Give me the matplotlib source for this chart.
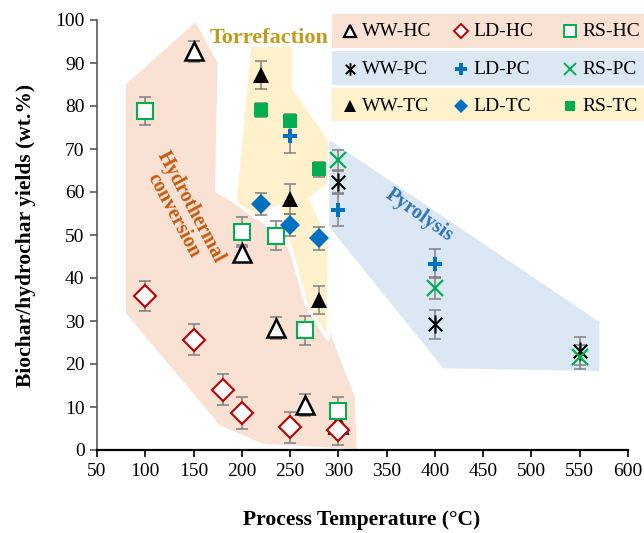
import matplotlib
matplotlib.use('Agg')
import matplotlib.pyplot as plt
from matplotlib.patches import Polygon, Rectangle
from matplotlib.lines import Line2D
from matplotlib.path import Path

plt.rcParams['font.family'] = ['Liberation Serif', 'DejaVu Serif']

# Yield data: temperature (°C), yield (wt.%), error
ww_hc_x = [150, 200, 235, 265, 300]
ww_hc_y = [92.7, 45.7, 28.3, 10.5, 6.0]
ww_hc_e = [2.5, 2.0, 2.6, 2.6, 2.0]

ld_hc_x = [100, 150, 180, 200, 250, 300]
ld_hc_y = [35.8, 25.6, 14.0, 8.7, 5.3, 4.7]
ld_hc_e = [3.5, 3.6, 3.6, 3.7, 3.6, 3.5]

rs_hc_x = [100, 200, 235, 265, 300]
rs_hc_y = [78.9, 50.8, 49.8, 27.8, 9.1]
rs_hc_e = [3.3, 3.5, 3.4, 3.3, 3.3]

ww_pc_x = [300, 400, 550]
ww_pc_y = [62.4, 29.2, 23.0]
ww_pc_e = [2.7, 3.4, 3.2]

ld_pc_x = [250, 300, 400]
ld_pc_y = [73.0, 55.8, 43.3]
ld_pc_e = [3.9, 3.7, 3.4]

rs_pc_x = [300, 400, 550]
rs_pc_y = [67.4, 37.7, 21.6]
rs_pc_e = [2.4, 2.6, 2.8]

ww_tc_x = [220, 250, 280]
ww_tc_y = [87.2, 58.4, 34.9]
ww_tc_e = [3.3, 3.5, 3.3]

ld_tc_x = [220, 250, 280]
ld_tc_y = [57.2, 52.4, 49.2]
ld_tc_e = [2.6, 2.6, 2.7]

rs_tc_x = [220, 250, 280]
rs_tc_y = [79.1, 76.6, 65.3]
rs_tc_e = [1.7, 1.5, 1.7]

# shaded process regions (data coordinates)
hydro_region = [(80, 85), (152, 99.5), (175, 90), (172, 60), (210, 55), (245, 48),
                (290, 28), (317, 12.4), (319, 0.3), (222, 1.4), (177, 5.8), (80, 31.8)]
torr_region = [(208, 94.2), (254, 94.2), (254, 84.1), (291, 72.1), (291, 62.0),
               (271, 58.5), (291, 48.8), (289.5, 25.6), (267, 33.7), (246, 50.4),
               (238, 56.6), (215, 53.9), (193, 57.7)]
pyro_region = [(290.6, 72.1), (570.3, 29.8), (570.3, 18.4), (408.7, 19.0), (290.6, 51.9)]

HC_FILL = '#F9E1D4'
TC_FILL = '#FFF1CC'
PC_FILL = '#DCE7F4'
RED = '#C00000'
GREEN = '#00B050'
BLUE = '#0070C0'

# X with a vertical stroke through it
star_marker = Path(
    [(0, -1), (0, 1), (-0.75, -0.75), (0.75, 0.75), (-0.75, 0.75), (0.75, -0.75)],
    [Path.MOVETO, Path.LINETO, Path.MOVETO, Path.LINETO, Path.MOVETO, Path.LINETO])

series = [
    (ww_hc_x, ww_hc_y, ww_hc_e, dict(marker='^', ms=13, mfc='white', mec='black', mew=1.8)),
    (ld_hc_x, ld_hc_y, ld_hc_e, dict(marker='D', ms=11, mfc='white', mec=RED, mew=1.5)),
    (rs_hc_x, rs_hc_y, rs_hc_e, dict(marker='s', ms=11, mfc='white', mec=GREEN, mew=1.5)),
    (ww_pc_x, ww_pc_y, ww_pc_e, dict(marker=star_marker, ms=13, mfc='none', mec='black', mew=1.5)),
    (ld_pc_x, ld_pc_y, ld_pc_e, dict(marker='P', ms=10, mfc=BLUE, mec=BLUE, mew=0)),
    (rs_pc_x, rs_pc_y, rs_pc_e, dict(marker='x', ms=11, mfc='none', mec=GREEN, mew=1.6)),
    (ww_tc_x, ww_tc_y, ww_tc_e, dict(marker='^', ms=12, mfc='black', mec='black', mew=0)),
    (ld_tc_x, ld_tc_y, ld_tc_e, dict(marker='D', ms=10, mfc=BLUE, mec=BLUE, mew=0)),
    (rs_tc_x, rs_tc_y, rs_tc_e, dict(marker='s', ms=10, mfc=GREEN, mec=GREEN, mew=0)),
]

fig = plt.figure(figsize=(6.44, 5.33), dpi=100)
ax = fig.add_axes([97 / 644, 83 / 533, 531 / 644, 430 / 533])

# process regions
ax.add_patch(Polygon(hydro_region, closed=True, fc=HC_FILL, ec='none', zorder=0))
ax.add_patch(Polygon(torr_region, closed=True, fc=TC_FILL, ec='white', lw=2.5, zorder=0.5))
ax.add_patch(Polygon(pyro_region, closed=True, fc=PC_FILL, ec='none', zorder=0.5))

# error bars then markers
for x, y, e, style in series:
    ax.errorbar(x, y, yerr=e, fmt='none', ecolor='#808080', elinewidth=1.1,
                capsize=4.5, capthick=1.1, zorder=2)
for x, y, e, style in series:
    ax.plot(x, y, ls='none', zorder=3, **style)

# region labels
ax.text(228, 95.8, 'Torrefaction', color='#C49A1A', fontsize=16, fontweight='bold',
        ha='center', va='center', zorder=4)
ax.text(138, 55.5, 'Hydrothermal\nconversion', color='#C55A11', fontsize=14.5,
        fontweight='bold', ha='center', va='center', rotation=-62,
        rotation_mode='anchor', multialignment='center', linespacing=1.0, zorder=4)
ax.text(384, 54.5, 'Pyrolysis', color='#2E75B6', fontsize=14.5, fontweight='bold',
        ha='center', va='center', rotation=-35, rotation_mode='anchor', zorder=4)

ax.set_xlim(50, 600)
ax.set_ylim(0, 100)
ax.set_xticks(range(50, 601, 50))
ax.set_yticks(range(0, 101, 10))
ax.tick_params(axis='both', labelsize=14, direction='out', length=5, width=1.2,
               colors='black', pad=4)
ax.tick_params(axis='y', color='#595959')
for side in ['top', 'right']:
    ax.spines[side].set_visible(False)
ax.spines['left'].set_color('#595959')
ax.spines['left'].set_linewidth(1.2)
ax.spines['bottom'].set_linewidth(1.6)

fig.text(362 / 644, 1 - 520 / 533, 'Process Temperature (°C)', fontsize=15.5,
         fontweight='bold', ha='center', va='center')
fig.text(26 / 644, 1 - 235 / 533, 'Biochar/hydrochar yields (wt.%)', fontsize=15.5,
         fontweight='bold', ha='center', va='center', rotation=90)

# legend: three coloured rows at the top right
rows = [
    (HC_FILL, 14, 48, 31,
     [('WW-HC', dict(marker='^', ms=9, mfc='white', mec='black', mew=1.6)),
      ('LD-HC', dict(marker='D', ms=7.5, mfc='white', mec=RED, mew=1.4)),
      ('RS-HC', dict(marker='s', ms=8.5, mfc='white', mec=GREEN, mew=1.4))]),
    (PC_FILL, 51, 85, 69,
     [('WW-PC', dict(marker=star_marker, ms=9, mfc='none', mec='black', mew=1.4)),
      ('LD-PC', dict(marker='P', ms=8, mfc=BLUE, mec=BLUE, mew=0)),
      ('RS-PC', dict(marker='x', ms=9, mfc='none', mec=GREEN, mew=1.4))]),
    (TC_FILL, 88, 121, 106,
     [('WW-TC', dict(marker='^', ms=9, mfc='black', mec='black', mew=0)),
      ('LD-TC', dict(marker='D', ms=7.5, mfc=BLUE, mec=BLUE, mew=0)),
      ('RS-TC', dict(marker='s', ms=7.5, mfc=GREEN, mec=GREEN, mew=0))]),
]
marker_px = [350, 461, 570]
text_px = [362, 473, 582]
for fill, top, bottom, yc, entries in rows:
    fig.patches.append(Rectangle((332 / 644, 1 - bottom / 533), (644 - 332) / 644,
                                 (bottom - top) / 533, transform=fig.transFigure,
                                 fc=fill, ec='none', zorder=5))
    for (label, style), mx, tx in zip(entries, marker_px, text_px):
        fig.add_artist(Line2D([mx / 644], [1 - yc / 533], transform=fig.transFigure,
                              ls='none', zorder=6, **style))
        fig.text(tx / 644, 1 - yc / 533, label, fontsize=14, ha='left', va='center',
                 zorder=6)

fig.savefig('out.png', dpi=100)
